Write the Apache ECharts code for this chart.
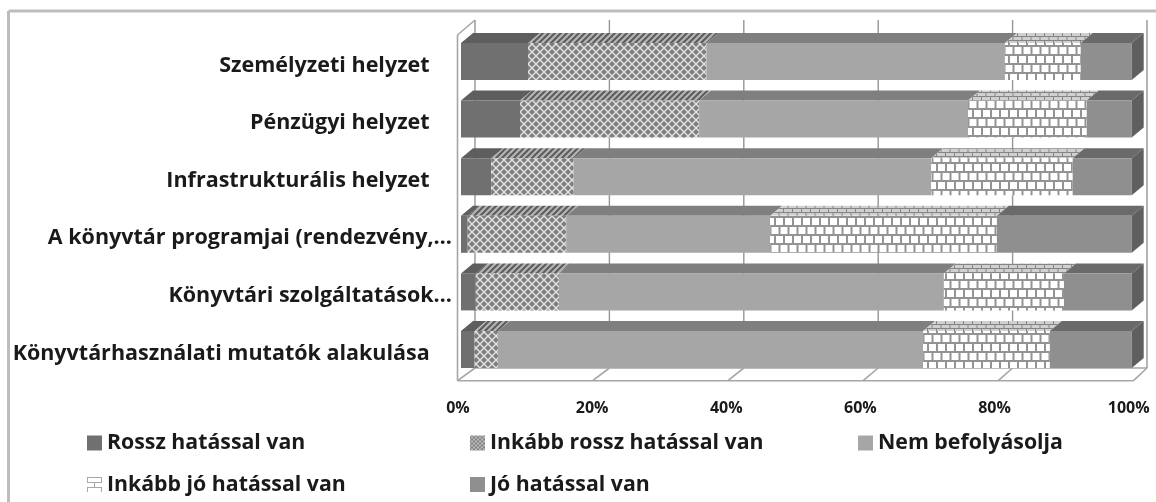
<!DOCTYPE html>
<html><head><meta charset="utf-8">
<style>html,body{margin:0;padding:0;background:#fff}#c{width:1156px;height:502px}</style>
<script src="https://cdn.jsdelivr.net/npm/echarts@6/dist/echarts.min.js"></script>
</head><body><div id="c"></div>
<script>
var categories = ['Személyzeti helyzet    ','Pénzügyi helyzet    ','Infrastrukturális helyzet    ','A könyvtár programjai (rendezvény,…','Könyvtári szolgáltatások…','Könyvtárhasználati mutatók alakulása    '];
var seriesNames = ['Rossz hatással van','Inkább rossz hatással van','Nem befolyásolja','Inkább jó hatással van','Jó hatással van'];
var rossz = [10, 8.8, 4.5, 1, 2.2, 2];
var inkabbRossz = [26.6, 26.7, 12.3, 14.7, 12.4, 3.5];
var nemBefolyasolja = [44.5, 40.1, 53.3, 30.4, 57.4, 63.4];
var inkabbJo = [11.3, 17.7, 21.1, 33.8, 17.9, 18.9];
var jo = [7.6, 6.7, 8.8, 20.1, 10.1, 12.2];
var ticks = [0,20,40,60,80,100];
var values = [rossz, inkabbRossz, nemBefolyasolja, inkabbJo, jo];

function patternCanvas(w,h,draw){var c=document.createElement('canvas');c.width=w;c.height=h;draw(c.getContext('2d'));return c;}
function lattice(bg,fg,n,r){return patternCanvas(n,n,function(g){
  g.fillStyle=bg;g.fillRect(0,0,n,n);g.fillStyle=fg;
  [[n/2,0],[0,n/2],[n,n/2],[n/2,n]].forEach(function(p){g.beginPath();g.moveTo(p[0],p[1]-r);g.lineTo(p[0]+r,p[1]);g.lineTo(p[0],p[1]+r);g.lineTo(p[0]-r,p[1]);g.closePath();g.fill();});
});}
function stripes(bg,fg){return patternCanvas(6,6,function(g){
  g.fillStyle=bg;g.fillRect(0,0,6,6);g.strokeStyle=fg;g.lineWidth=2;
  g.beginPath();g.moveTo(-1,7);g.lineTo(7,-1);g.moveTo(-1,1);g.lineTo(1,-1);g.moveTo(5,7);g.lineTo(7,5);g.stroke();
});}
function brick(bg,fg,w,h,m){return patternCanvas(w,h*2,function(g){
  g.fillStyle=bg;g.fillRect(0,0,w,h*2);g.fillStyle=fg;
  g.fillRect(0,0,w,m);g.fillRect(0,h,w,m);
  g.fillRect(0,0,m,h);g.fillRect(w/2,h,m,h);
});}
var pics = {
  lat: {image:lattice('#e2e2e2','#7e7e7e',8,3),repeat:'repeat'},
  latLegend: {image:lattice('#d0d0d0','#777777',4,1.5),repeat:'repeat'},
  latTop: {image:stripes('#b4b4b4','#5c5c5c'),repeat:'repeat'},
  brk: {image:brick('#ffffff','#939393',9,9,2),repeat:'repeat'},
  brkTop: {image:brick('#d0d0d0','#858585',9,4,1),repeat:'repeat'},
  brkLegend: {image:brick('#ffffff','#a8a8a8',14,5,1),repeat:'repeat'}
};
var styles = [
  {front:'#707070',top:'#5e5e5e',legend:'#707070'},
  {front:pics.lat,top:pics.latTop,legend:pics.latLegend},
  {front:'#a6a6a6',top:'#7f7f7f',legend:'#a6a6a6'},
  {front:pics.brk,top:pics.brkTop,legend:pics.brkLegend},
  {front:'#8f8f8f',top:'#6a6a6a',side:'#5f5f5f',legend:'#8f8f8f'}
];
var DX=12, DY=10;
function barRender(si){return function(params,api){
  var a=api.coord([api.value(0),api.value(2)]), b=api.coord([api.value(1),api.value(2)]);
  var h=api.size([0,1])[1]*0.643, y=a[1]-h/2, st=styles[si];
  var ch=[
    {type:'polygon',shape:{points:[[a[0],y],[a[0]+DX,y-DY],[b[0]+DX,y-DY],[b[0],y]]},style:{fill:st.top}},
    {type:'rect',shape:{x:a[0],y:y,width:b[0]-a[0],height:h},style:{fill:st.front}}
  ];
  if(st.side) ch.push({type:'polygon',shape:{points:[[b[0],y],[b[0]+DX,y-DY],[b[0]+DX,y+h-DY],[b[0],y+h]]},style:{fill:st.side}});
  return {type:'group',children:ch};
};}
function wallRender(params,api){
  var v=api.value(0), p=api.coord([v,0]), p0=api.coord([0,0])[0], yTop=20, yBack=368, yFront=380.7;
  var bx=p[0]+14+(v/100)*1.3, fx=p0-3.5+(p[0]-p0)*1.0079;
  var ls={stroke:'#a6a6a6',lineWidth:1.6}, gs={stroke:'#969696',lineWidth:1.4};
  var ch=[
    {type:'line',shape:{x1:bx,y1:yTop,x2:bx,y2:yBack},style:gs},
    {type:'line',shape:{x1:fx,y1:yFront,x2:bx,y2:yBack},style:ls}
  ];
  if(v===0){
    ch.push({type:'line',shape:{x1:fx,y1:yFront,x2:fx,y2:35},style:ls});
    ch.push({type:'line',shape:{x1:fx,y1:35,x2:bx,y2:yTop},style:ls});
    ch.push({type:'line',shape:{x1:fx,y1:yFront,x2:api.coord([100,0])[0]+1.8,y2:yFront},style:ls});
    ch.push({type:'line',shape:{x1:bx,y1:yBack,x2:api.coord([100,0])[0]+15.3,y2:yBack},style:ls});
  }
  return {type:'group',children:ch};
}
var series=[{type:'custom',silent:true,z:1,renderItem:wallRender,encode:{x:0},data:ticks.map(function(t){return [t];}),clip:false,name:'fal'}];
var cum=categories.map(function(){return 0;});
values.forEach(function(arr,si){
  series.push({type:'custom',name:seriesNames[si],z:2+si,clip:false,renderItem:barRender(si),
    itemStyle:{color:styles[si].legend},
    encode:{x:[0,1],y:2},
    data:arr.map(function(v,i){var s=cum[i];cum[i]+=v;return [s,cum[i],i];})});
});
var legendPos=[[87,443],[470,443],[858,443],[87,484.5],[470,484.5]];
var legends=seriesNames.map(function(n,i){return {data:[n],left:legendPos[i][0]-5,top:legendPos[i][1]-15.5,padding:5,itemWidth:15,itemHeight:15,itemGap:6,icon:'rect',selectedMode:false,
  textStyle:{fontFamily:'Open Sans',fontWeight:'bold',fontSize:21.3,color:'#1a1a1a'}};});
var chart=echarts.init(document.getElementById('c'),null,{renderer:'canvas'});
chart.setOption({
  animation:false,backgroundColor:'#fff',
  graphic:[
    {type:'line',z:-1,shape:{x1:8.5,y1:11,x2:1156,y2:11},style:{stroke:'#bdbdbd',lineWidth:3}},
    {type:'line',z:-1,shape:{x1:8.5,y1:11,x2:8.5,y2:502},style:{stroke:'#bdbdbd',lineWidth:3}}
  ],
  legend:legends,
  grid:{left:461,width:670.7,top:32.7,height:345.6,containLabel:false},
  xAxis:{type:'value',min:0,max:100,interval:20,axisLine:{show:false},axisTick:{show:false},splitLine:{show:false},
    axisLabel:{margin:22,padding:[0,6,0,0],formatter:'{value}%',fontFamily:'Open Sans',fontWeight:'bold',fontSize:16,color:'#1a1a1a'}},
  yAxis:{type:'category',inverse:true,data:categories,axisLine:{show:false},axisTick:{show:false},
    axisLabel:{margin:9,verticalAlign:'top',lineHeight:8,fontFamily:'Open Sans',fontWeight:'bold',fontSize:21.5,color:'#1a1a1a'}},
  series:series
});
</script></body></html>
